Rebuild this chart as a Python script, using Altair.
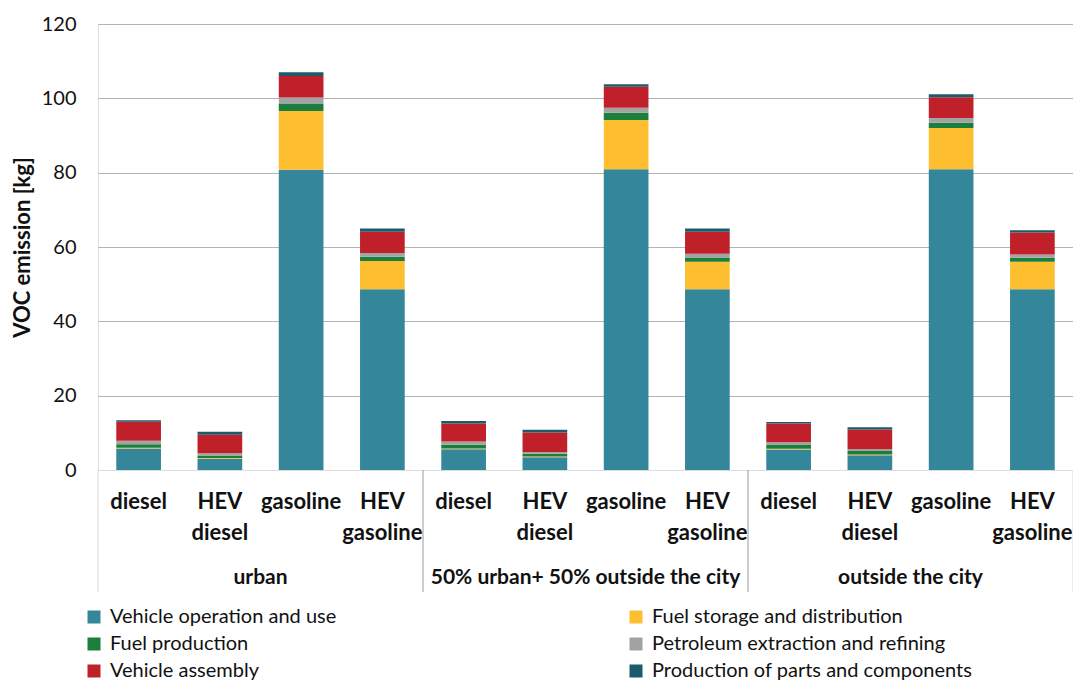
import altair as alt
import pandas as pd

scenarios = ["urban", "50% urban+ 50% outside the city", "outside the city"]
scen_codes = ["U", "M", "O"]
vehicles = ["diesel", "HEV diesel", "gasoline", "HEV gasoline"]
sources = [
    "Vehicle operation and use",
    "Fuel storage and distribution",
    "Fuel production",
    "Petroleum extraction and refining",
    "Vehicle assembly",
    "Production of parts and components",
]
colors = ["#34869B", "#FDBF2F", "#1A7F3C", "#A3A3A3", "#C0202A", "#1D5B6B"]

# values per source, order of bars: U diesel, U HEV diesel, U gasoline, U HEV gasoline, M ..., O ...
vehicle_operation = [5.8, 3.0, 80.8, 48.6, 5.6, 3.4, 80.9, 48.6, 5.5, 4.0, 80.9, 48.6]
fuel_storage = [0.2, 0.2, 15.8, 7.6, 0.2, 0.2, 13.3, 7.4, 0.2, 0.2, 11.1, 7.4]
fuel_production = [0.9, 0.7, 1.9, 1.2, 1.0, 0.8, 1.9, 1.2, 1.0, 0.9, 1.4, 1.1]
petroleum = [1.0, 0.6, 1.7, 1.0, 0.9, 0.35, 1.4, 1.0, 0.75, 0.5, 1.3, 0.9]
vehicle_assembly = [5.1, 5.0, 5.8, 5.7, 4.8, 5.35, 5.6, 5.9, 5.05, 5.3, 5.6, 5.9]
parts = [0.4, 0.8, 1.0, 0.9, 0.7, 0.7, 0.7, 0.9, 0.4, 0.6, 0.8, 0.6]

series = [vehicle_operation, fuel_storage, fuel_production, petroleum, vehicle_assembly, parts]

keys = [f"{c}:{v}" for c in scen_codes for v in vehicles]

rows = []
for si, (src, vals) in enumerate(zip(sources, series)):
    for k, val in zip(keys, vals):
        rows.append({"key": k, "source": src, "ord": si, "value": val})
df = pd.DataFrame(rows)

group_df = pd.DataFrame({
    "scenario": scenarios,
    "key": [f"{c}:gasoline" for c in scen_codes],
})
sep_df = pd.DataFrame({
    "key": [f"{c}:diesel" for c in scen_codes],
    "c": ["#d9d9d9", "#9a9a9a", "#9a9a9a"],
})

W = 975
H = 446
step = W / 12
pad = 0.45
gap = step * pad

xscale = alt.Scale(domain=keys, paddingInner=pad, paddingOuter=pad / 2)

bars = alt.Chart(df).mark_bar().encode(
    x=alt.X(
        "key:N",
        scale=xscale,
        title=None,
        axis=alt.Axis(
            labelExpr="split(split(datum.value, ':')[1], ' ')",
            labelAngle=0,
            labelFont="Lato",
            labelFontSize=22,
            labelFontWeight="bold",
            labelColor="#111111",
            labelLineHeight=31,
            labelBaseline="top",
            labelPadding=21,
            labelLimit=200,
            ticks=False,
            domain=False,
        ),
    ),
    y=alt.Y(
        "value:Q",
        stack="zero",
        scale=alt.Scale(domain=[0, 120]),
        title="VOC emission [kg]",
        axis=alt.Axis(
            values=[0, 20, 40, 60, 80, 100, 120],
            labelFont="Lato",
            labelFontSize=20,
            labelColor="#111111",
            labelPadding=22,
            ticks=False,
            domain=False,
            gridColor={"condition": {"test": "datum.value === 0", "value": "transparent"}, "value": "#b3b3b3"},
            gridWidth=1,
            titleFont="Lato",
            titleFontSize=22,
            titleFontWeight="bold",
            titleColor="#111111",
            titlePadding=7,
        ),
    ),
    color=alt.Color(
        "source:N",
        scale=alt.Scale(domain=sources, range=colors),
        title=None,
        legend=alt.Legend(
            orient="none",
            legendX=-14,
            legendY=583,
            direction="horizontal",
            columns=2,
            columnPadding=289,
            rowPadding=7,
            symbolType="square",
            symbolSize=169,
            symbolStrokeWidth=0,
            labelFont="Lato",
            labelFontSize=20,
            labelColor="#111111",
            labelOffset=6,
            labelLimit=400,
        ),
    ),
    order=alt.Order("ord:Q"),
)

group_text = alt.Chart(group_df).mark_text(
    font="Lato", fontSize=21, fontWeight="bold", color="#111111", dx=-gap / 2, baseline="middle"
).encode(
    x=alt.X("key:N", scale=xscale, bandPosition=0),
    y=alt.value(H + 108),
    text="scenario:N",
)

sep_rules = alt.Chart(sep_df).mark_rule(strokeWidth=1, xOffset=-gap / 2).encode(
    x=alt.X("key:N", scale=xscale, bandPosition=0),
    y=alt.value(H),
    y2=alt.value(H + 122),
    color=alt.Color("c:N", scale=None),
)

right_rule = alt.Chart(sep_df.head(1)).mark_rule(color="#d9d9d9", strokeWidth=1).encode(
    x=alt.value(W),
    y=alt.value(H),
    y2=alt.value(H + 122),
)

chart = alt.layer(bars, group_text, sep_rules, right_rule).properties(
    width=W,
    height=H,
    autosize=alt.AutoSizeParams(type="none"),
    padding={"left": 90, "top": 16, "right": 0, "bottom": 210},
).configure_view(stroke=None).configure(background="white")

chart.save("out.html", embed_options={"renderer": "svg", "actions": False})
